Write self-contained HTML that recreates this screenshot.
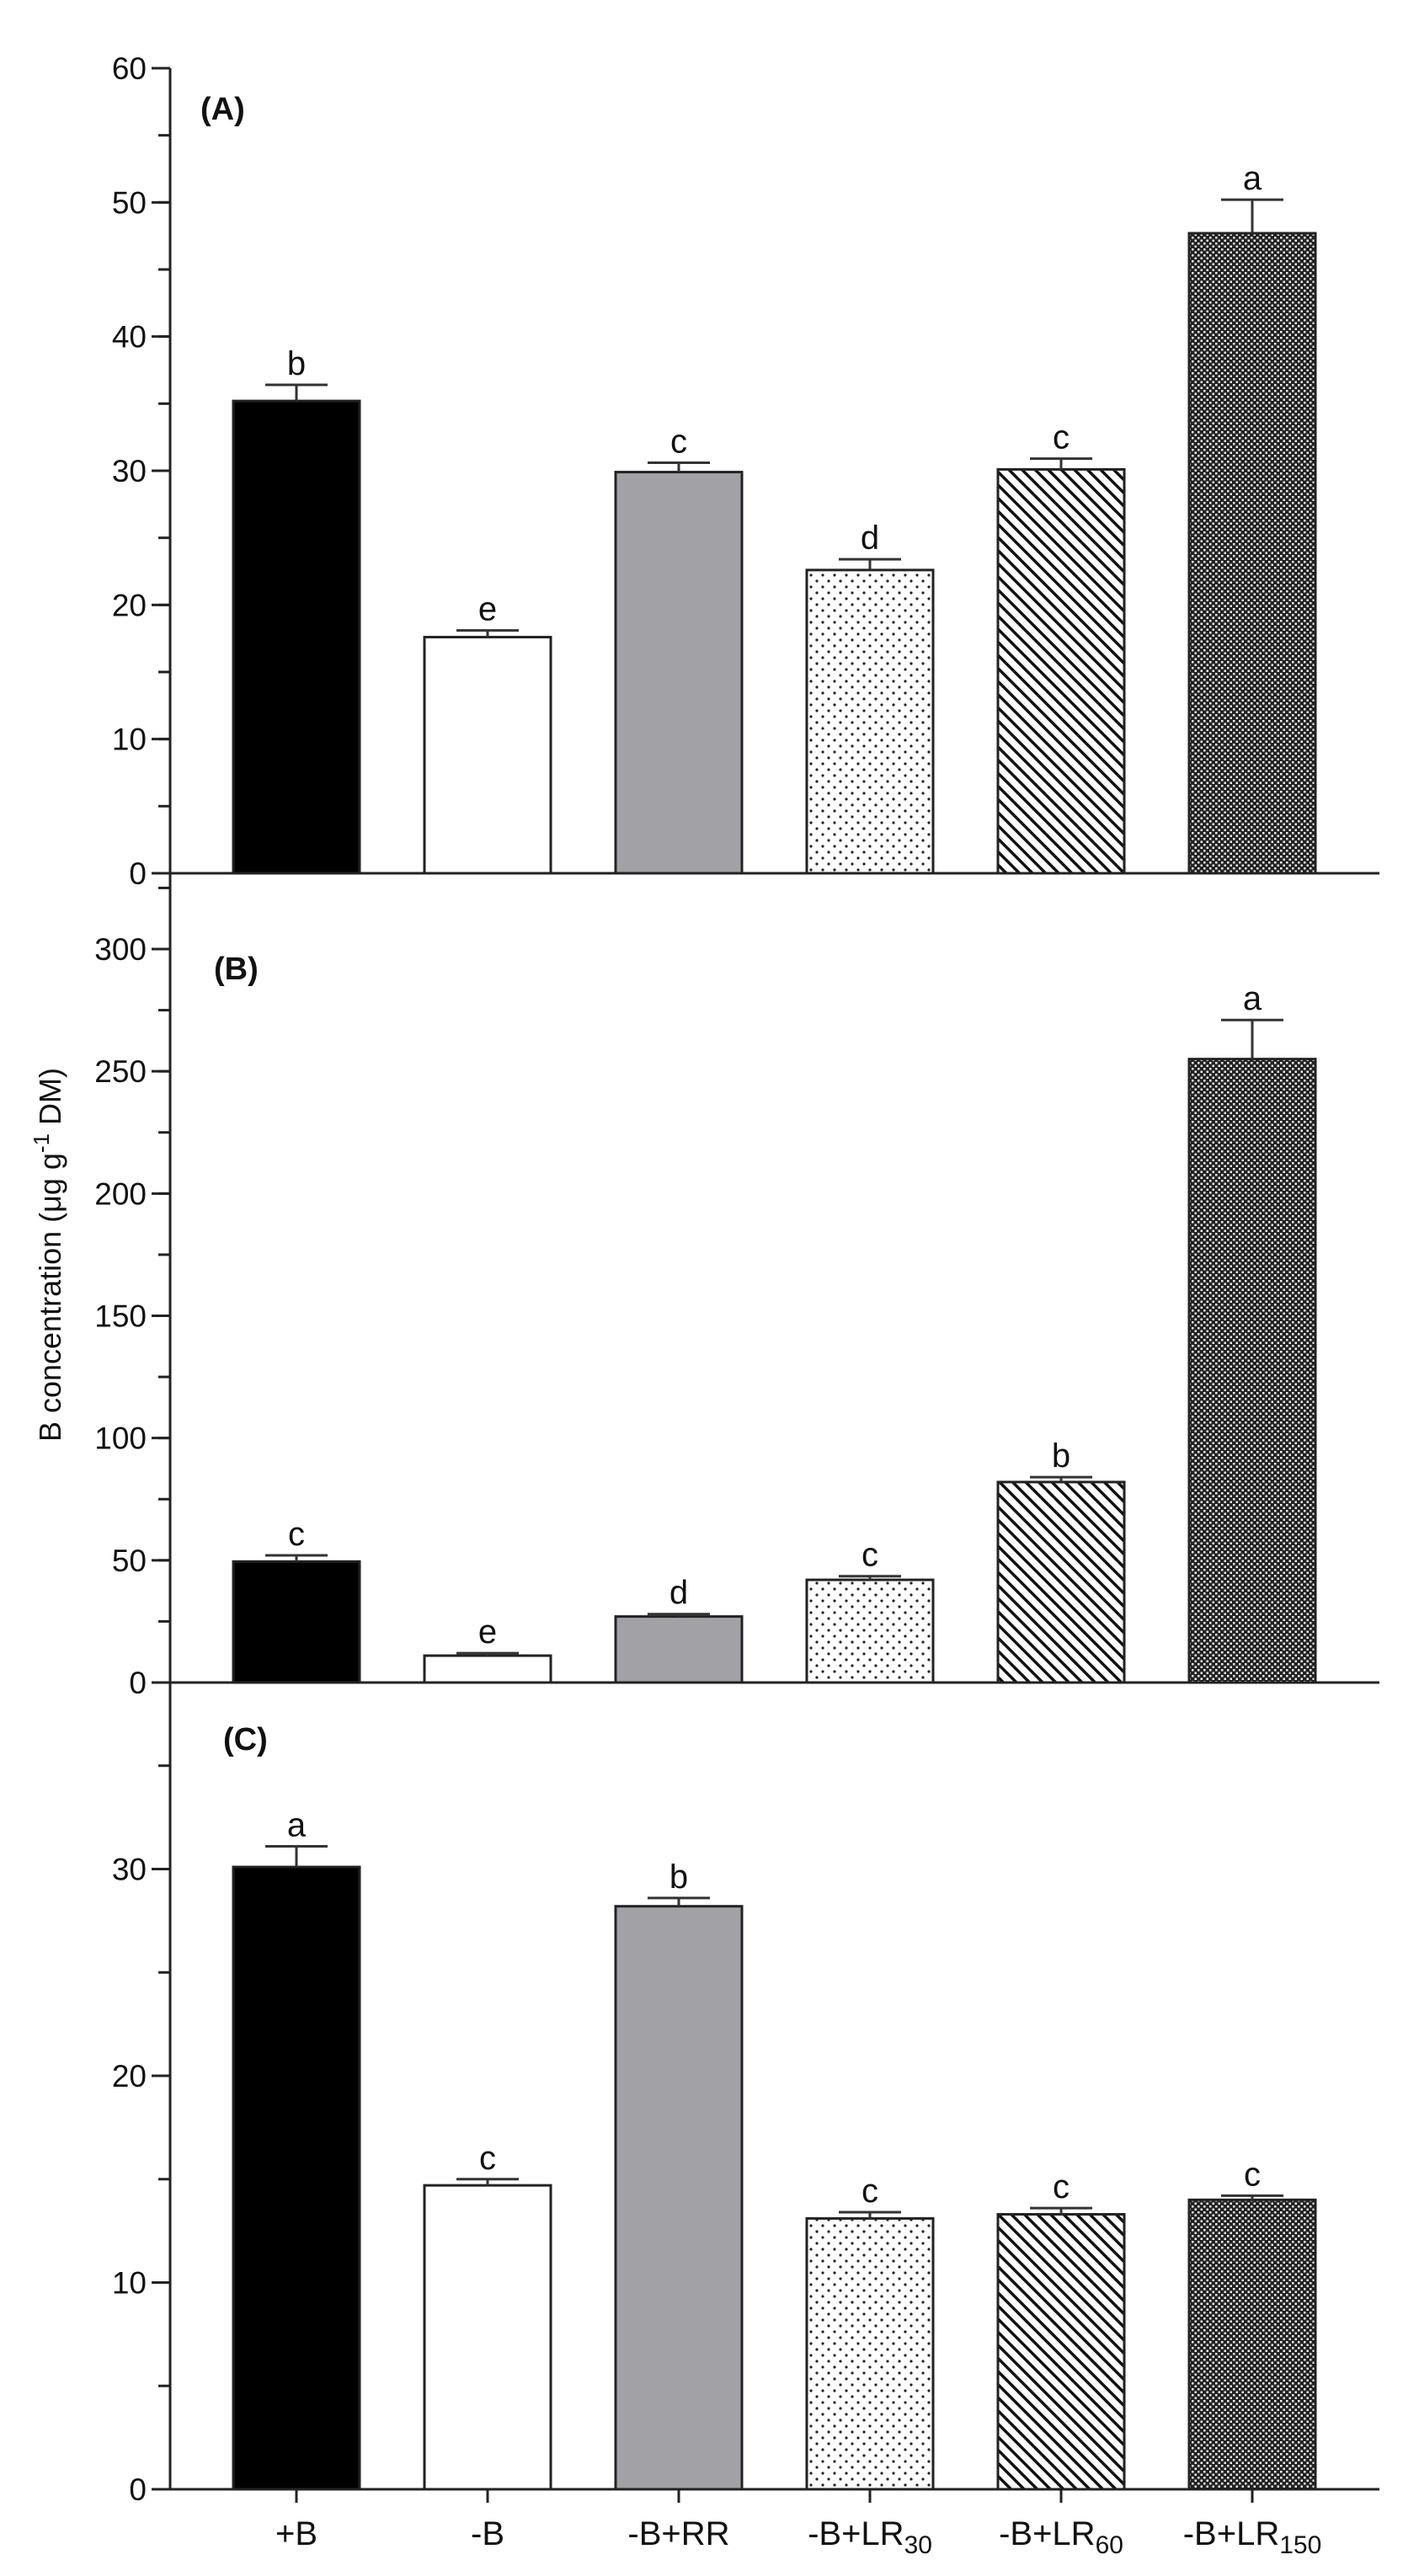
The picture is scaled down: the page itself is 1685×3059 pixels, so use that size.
<!DOCTYPE html>
<html><head><meta charset="utf-8"><style>
html,body{margin:0;padding:0;background:#fff}
svg{display:block}
text{font-family:"Liberation Sans",Arial,sans-serif;fill:#111}
</style></head><body>
<svg id="chart" width="1685" height="3059" viewBox="0 0 1685 3059" xmlns="http://www.w3.org/2000/svg">
<defs>
<pattern id="pDots" width="14" height="14" patternUnits="userSpaceOnUse"><rect width="14" height="14" fill="#fff"/><circle cx="4" cy="4" r="1.6" fill="#222"/><circle cx="11" cy="11" r="1.6" fill="#222"/></pattern>
<pattern id="pDiag" width="11" height="11" patternUnits="userSpaceOnUse" patternTransform="rotate(-45)"><rect width="11" height="11" fill="#fff"/><rect x="0" y="0" width="3.5" height="11" fill="#111"/></pattern>
<pattern id="pCheck" width="7" height="7" patternUnits="userSpaceOnUse"><rect width="7" height="7" fill="#222"/><rect x="1" y="1" width="2.5" height="2.5" fill="#eee"/><rect x="4.5" y="4.5" width="2.5" height="2.5" fill="#eee"/></pattern>
</defs>
</svg>
<script>
const categories = ["+B","-B","-B+RR","-B+LR30","-B+LR60","-B+LR150"];
const valuesA = [35.2,17.6,29.9,22.6,30.1,47.7];
const errorsA = [1.2,0.5,0.7,0.8,0.8,2.5];
const lettersA = ["b","e","c","d","c","a"];
const valuesB = [49.5,11,27,42,82,255];
const errorsB = [2.5,1,1,1.5,2,16];
const lettersB = ["c","e","d","c","b","a"];
const valuesC = [30.1,14.7,28.2,13.1,13.3,14.0];
const errorsC = [1.0,0.3,0.4,0.3,0.3,0.2];
const lettersC = ["a","c","b","c","c","c"];
const ticksA = [0,10,20,30,40,50,60];
const ticksB = [0,50,100,150,200,250,300];
const ticksC = [0,10,20,30];

const svg = document.getElementById('chart');
const NS = 'http://www.w3.org/2000/svg';
const fills = ["#000","#fff","#a2a2a6","url(#pDots)","url(#pDiag)","url(#pCheck)"];
const AX = 202, XR = 1638, PITCH = 227, X0 = 352, BW = 150;
function xc(i){ return X0 + i*PITCH; }
function mk(tag, attrs){ const e=document.createElementNS(NS,tag); for(const k in attrs) e.setAttribute(k,attrs[k]); svg.appendChild(e); return e; }

const panels = [
 {id:'a', label:'(A)', vals:valuesA, errs:errorsA, lets:lettersA, ticks:ticksA, minor:5, max:60, y0:1037, yMax:81, lx:238, ly:142, top:81},
 {id:'b', label:'(B)', vals:valuesB, errs:errorsB, lets:lettersB, ticks:ticksB, minor:25, max:325, y0:1998, yMax:1127, vmaxTick:300, lx:254, ly:1163, top:1037},
 {id:'c', label:'(C)', vals:valuesC, errs:errorsC, lets:lettersC, ticks:ticksC, minor:5, max:40, y0:2956, yMax:2219.5, vmaxTick:30, lx:265, ly:2078, top:1998}
];

let ax = mk('line',{x1:AX,y1:81,x2:AX,y2:2956,stroke:'#222','stroke-width':3});



panels.forEach(p=>{
  const topTick = p.vmaxTick!==undefined ? p.vmaxTick : p.max;
  const scale = (p.y0 - p.yMax)/topTick;
  const y = v => p.y0 - v*scale;
  for(let v=0; y(v) >= p.top-1; v+=p.minor){
    const t = mk('line',{x1:AX-14,y1:y(v),x2:AX,y2:y(v),stroke:'#222','stroke-width':3});
    
    
  }
  p.ticks.forEach(v=>{
    const t = mk('line',{x1:AX-22,y1:y(v),x2:AX,y2:y(v),stroke:'#222','stroke-width':3});
    
    
    const tx = mk('text',{x:AX-28,y:y(v)+13,'text-anchor':'end','font-size':37});
    tx.textContent = v;
    
    
  });
  const bl = mk('line',{x1:AX-22,y1:p.y0,x2:XR,y2:p.y0,stroke:'#222','stroke-width':3});
  
  
  const pl = mk('text',{x:p.lx,y:p.ly,'font-size':38,'font-weight':'bold'});
  pl.textContent = p.label;
  
  
  p.vals.forEach((v,i)=>{
    const cx = xc(i);
    const r = mk('rect',{x:cx-BW/2,y:y(v),width:BW,height:p.y0-y(v),fill:fills[i],stroke:'#222','stroke-width':3});
    
    
    const et = y(v+p.errs[i]);
    const e1 = mk('line',{x1:cx,y1:y(v),x2:cx,y2:et,stroke:'#333','stroke-width':3});
    
    
    const e2 = mk('line',{x1:cx-37,y1:et,x2:cx+37,y2:et,stroke:'#333','stroke-width':3});
    
    
    const lt = mk('text',{x:cx,y:et-12,'text-anchor':'middle','font-size':40});
    lt.textContent = p.lets[i];
    
    
  });
});

categories.forEach((c,i)=>{
  const cx = xc(i);
  const t = mk('line',{x1:cx,y1:2956,x2:cx,y2:2972,stroke:'#222','stroke-width':3});
  
  
  const tx = mk('text',{x:cx,y:3022,'text-anchor':'middle','font-size':40});
  const m = c.match(/^(.*LR)(\d+)$/);
  if(m){
    tx.appendChild(document.createTextNode(m[1]));
    const s = document.createElementNS(NS,'tspan');
    s.setAttribute('dy','10'); s.setAttribute('font-size','30');
    s.textContent = m[2];
    tx.appendChild(s);
  } else tx.textContent = c;
  
  
});

const yt = mk('text',{x:0,y:0,'text-anchor':'middle','font-size':36,transform:'translate(72,1490) rotate(-90)'});
yt.innerHTML = 'B concentration (μg g<tspan dy="-14" font-size="26">-1</tspan><tspan dy="14"> DM)</tspan>';


</script>
</body></html>
